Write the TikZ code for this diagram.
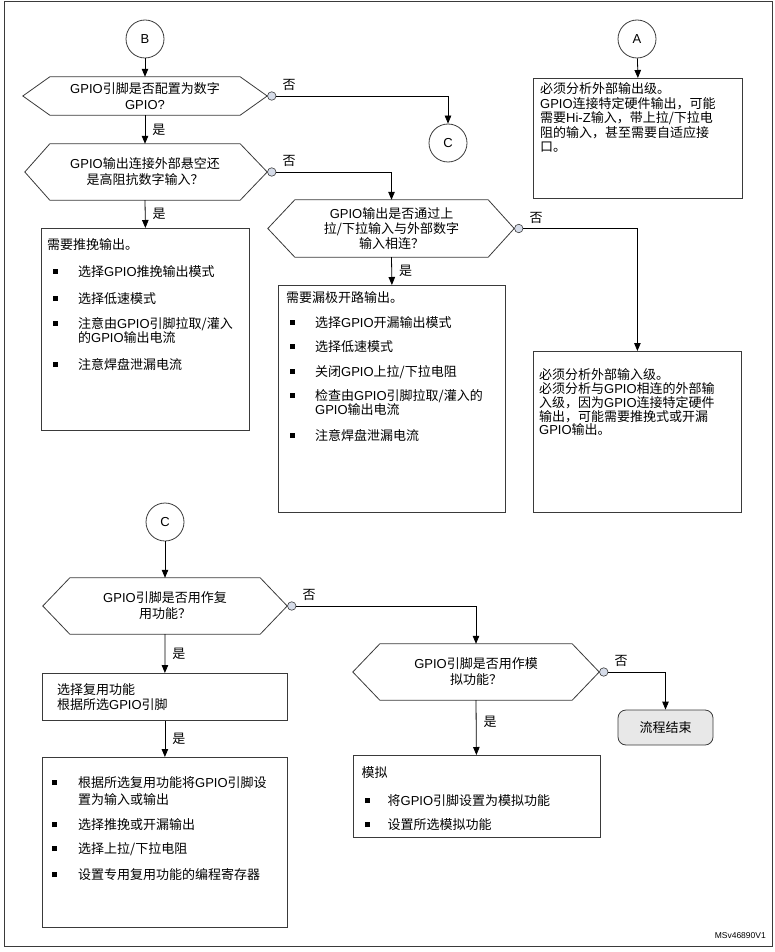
\documentclass[tikz,border=0pt]{standalone}
\usepackage{fontspec}
\setmainfont{Noto Sans CJK SC}
\newfontfamily\latinfont{Liberation Sans}
\usetikzlibrary{arrows.meta, positioning}
\definecolor{linegray}{HTML}{3A3A3A}
\definecolor{knobfill}{HTML}{D6DCE9}
\definecolor{endfill}{HTML}{E8E8E8}
\newcommand{\gpio}{{\latinfont GPIO}}
\newcommand{\bul}[2]{\hspace*{#1}\makebox[#2][l]{\rule[2.5pt]{5pt}{5pt}}}
\newcommand{\topstrut}{\rule{0pt}{12pt}}
\newcommand{\cjkfont}{\fontsize{13}{14.5}\selectfont}
\tikzset{
  pageframe/.style={draw=linegray, line width=1pt},
  box/.style={rectangle, draw=linegray, line width=0.8pt, anchor=north west, inner sep=0pt},
  txt/.style={anchor=north west, align=left, inner sep=0pt, font=\cjkfont},
  dec/.style={rectangle, align=center, inner sep=0pt, minimum width=190pt,
    minimum height=56pt, font=\fontsize{13}{16}\selectfont},
  hex/.style={draw=linegray, line width=0.8pt},
  conn/.style={circle, draw=linegray, line width=0.8pt, minimum size=38pt,
    inner sep=0pt, font=\latinfont\fontsize{13}{15}\selectfont},
  knob/.style={circle, draw=linegray, fill=knobfill, line width=0.6pt,
    minimum size=8.5pt, inner sep=0pt, anchor=west},
  term/.style={rectangle, rounded corners=8pt, draw=linegray, fill=endfill,
    line width=0.8pt, minimum width=95pt, minimum height=35pt, font=\cjkfont},
  line/.style={-{Triangle[length=8pt, width=6.5pt]}, draw=black, line width=0.8pt},
  lbl/.style={inner sep=2pt, font=\cjkfont},
  nolbl/.style={lbl, anchor=south west, xshift=4pt, yshift=3pt}
}
\begin{document}
\begin{tikzpicture}[x=1pt, y=-1pt]
\useasboundingbox (0,0) rectangle (775,952);
\draw[pageframe] (4,2) rectangle (772,946);

% ---- connectors A, B, C ----
\node[conn] (cB) at (145,39) {B};
\node[conn] (cA) at (637,39) {A};
\node[conn] (cC1) at (448,143) {C};
\node[conn] (cC2) at (165,522) {C};

% ---- decisions ----
\node[dec, minimum height=38pt] (q1) at (145,96) {\gpio{}引脚是否配置为数字\\{\latinfont GPIO?}};
\node[dec] (q2) at (145,172) {\gpio{}输出连接外部悬空还\\是高阻抗数字输入？};
\node[dec, minimum width=193pt, minimum height=57pt, font=\fontsize{13}{15}\selectfont] (q3) at (391.5,228.5)
  {\gpio{}输出是否通过上\\拉/下拉输入与外部数字\\输入相连？};
\node[dec] (q4) at (165,606) {\gpio{}引脚是否用作复\\用功能？};
\node[dec, minimum width=192pt] (q5) at (476,672) {\gpio{}引脚是否用作模\\拟功能？};

\draw[hex] (q1.north west) -- (q1.north east) -- ([xshift=27pt]q1.east) -- (q1.south east)
  -- (q1.south west) -- ([xshift=-27pt]q1.west) -- cycle;
\draw[hex] (q2.north west) -- (q2.north east) -- ([xshift=27pt]q2.east) -- (q2.south east)
  -- (q2.south west) -- ([xshift=-25pt]q2.west) -- cycle;
\draw[hex] (q3.north west) -- (q3.north east) -- ([xshift=26pt]q3.east) -- (q3.south east)
  -- (q3.south west) -- ([xshift=-27pt]q3.west) -- cycle;
\draw[hex] (q4.north west) -- (q4.north east) -- ([xshift=27pt]q4.east) -- (q4.south east)
  -- (q4.south west) -- ([xshift=-27pt]q4.west) -- cycle;
\draw[hex] (q5.north west) -- (q5.north east) -- ([xshift=27pt]q5.east) -- (q5.south east)
  -- (q5.south west) -- ([xshift=-27pt]q5.west) -- cycle;

\node[knob] (q1no) at ([xshift=27pt]q1.east) {};
\node[knob] (q2no) at ([xshift=27pt]q2.east) {};
\node[knob] (q3no) at ([xshift=26pt]q3.east) {};
\node[knob] (q4no) at ([xshift=27pt]q4.east) {};
\node[knob] (q5no) at ([xshift=27pt]q5.east) {};

% ---- boxes ----
\node[box, minimum width=209pt, minimum height=120pt] (outA) at (533,78) {};
\node[box, minimum width=208pt, minimum height=202pt] (pp) at (41,228) {};
\node[box, minimum width=227pt, minimum height=227pt] (od) at (278,285) {};
\node[box, minimum width=208pt, minimum height=161pt] (inbox) at (533,351) {};
\node[box, minimum width=245pt, minimum height=47pt] (alt) at (42,673) {};
\node[box, minimum width=245pt, minimum height=170pt] (altcfg) at (42,757) {};
\node[box, minimum width=247pt, minimum height=82pt] (ana) at (352.5,755) {};
\node[term] (done) at (665.5,727.5) {流程结束};

% ---- box texts ----
\node[txt] (tA) at ([shift={(7pt,-3.5pt)}]outA.north west) {\topstrut 必须分析外部输出级。\\
\gpio{}连接特定硬件输出，可能\\
需要{\latinfont Hi-Z}输入，带上拉/下拉电\\
阻的输入，甚至需要自适应接\\
口。};
\node[txt] (tpp) at ([shift={(6pt,-9.5pt)}]pp.north west) {\topstrut 需要推挽输出。\\[12pt]
\bul{6pt}{25pt}选择\gpio{}推挽输出模式\\[13pt]
\bul{6pt}{25pt}选择低速模式\\[10pt]
\bul{6pt}{25pt}注意由\gpio{}引脚拉取/灌入\\
\hspace*{31pt}的\gpio{}输出电流\\[12pt]
\bul{6pt}{25pt}注意焊盘泄漏电流};
\node[txt] (tod) at ([shift={(8pt,-5.5pt)}]od.north west) {\topstrut 需要漏极开路输出。\\[10pt]
\bul{4pt}{25pt}选择\gpio{}开漏输出模式\\[10pt]
\bul{4pt}{25pt}选择低速模式\\[10pt]
\bul{4pt}{25pt}关闭\gpio{}上拉/下拉电阻\\[9.5pt]
\bul{4pt}{25pt}检查由\gpio{}引脚拉取/灌入的\\
\hspace*{29pt}\gpio{}输出电流\\[11pt]
\bul{4pt}{25pt}注意焊盘泄漏电流};
\node[txt] (tin) at ([shift={(6pt,-16.5pt)}]inbox.north west) {\topstrut 必须分析外部输入级。\\[-0.7pt]
必须分析与\gpio{}相连的外部输\\[-0.7pt]
入级，因为\gpio{}连接特定硬件\\[-0.7pt]
输出，可能需要推挽式或开漏\\[-0.7pt]
\gpio{}输出。};
\node[txt] (talt) at ([shift={(15pt,-9.5pt)}]alt.north west) {\topstrut 选择复用功能\\
根据所选\gpio{}引脚};
\node[txt] (tcfg) at ([shift={(10pt,-18.5pt)}]altcfg.north west) {\topstrut\bul{0pt}{26pt}根据所选复用功能将\gpio{}引脚设\\[2.5pt]
\hspace*{26pt}置为输入或输出\\[10.5pt]
\bul{0pt}{26pt}选择推挽或开漏输出\\[9.5pt]
\bul{0pt}{26pt}选择上拉/下拉电阻\\[11.5pt]
\bul{0pt}{26pt}设置专用复用功能的编程寄存器};
\node[txt] (tana) at ([shift={(9pt,-10.5pt)}]ana.north west) {\topstrut 模拟\\[13.5pt]
\bul{3pt}{23pt}将\gpio{}引脚设置为模拟功能\\[9.5pt]
\bul{3pt}{23pt}设置所选模拟功能};

\node[anchor=base east, inner sep=0pt, font=\latinfont\fontsize{8.5}{10}\selectfont] (docid) at (766,938) {MSv46890V1};

% ---- flow ----
\draw[line] (cB) -- (q1.north);
\draw[line] (q1.south) -- node[lbl, right=5pt] (y1) {是} (q2.north);
\draw[line] (q2.south) -- node[lbl, right=5pt] (y2) {是} (pp.north);
\draw[line] (q1no.east) node[nolbl] (n1) {否} -| (cC1.north);
\draw[line] (q2no.east) node[nolbl] (n2) {否} -| (q3.north);
\draw[line] (q3.south) -- node[lbl, right=5pt] (y3) {是} (od.north);
\draw[line] (q3no.east) node[nolbl] (n3) {否} -| (inbox.north);
\draw[line] (cA) -- (outA.north);

\draw[line] (cC2) -- (q4.north);
\draw[line] (q4.south) -- node[lbl, right=5pt] (y4) {是} (alt.north);
\draw[line] (alt.south) -- node[lbl, right=5pt] (y5) {是} (altcfg.north);
\draw[line] (q4no.east) node[nolbl] (n4) {否} -| (q5.north);
\draw[line] (q5.south) -- node[lbl, right=5pt, pos=0.4] (y6) {是} (ana.north);
\draw[line] (q5no.east) node[nolbl] (n5) {否} -| (done.north);

\end{tikzpicture}
\end{document}
